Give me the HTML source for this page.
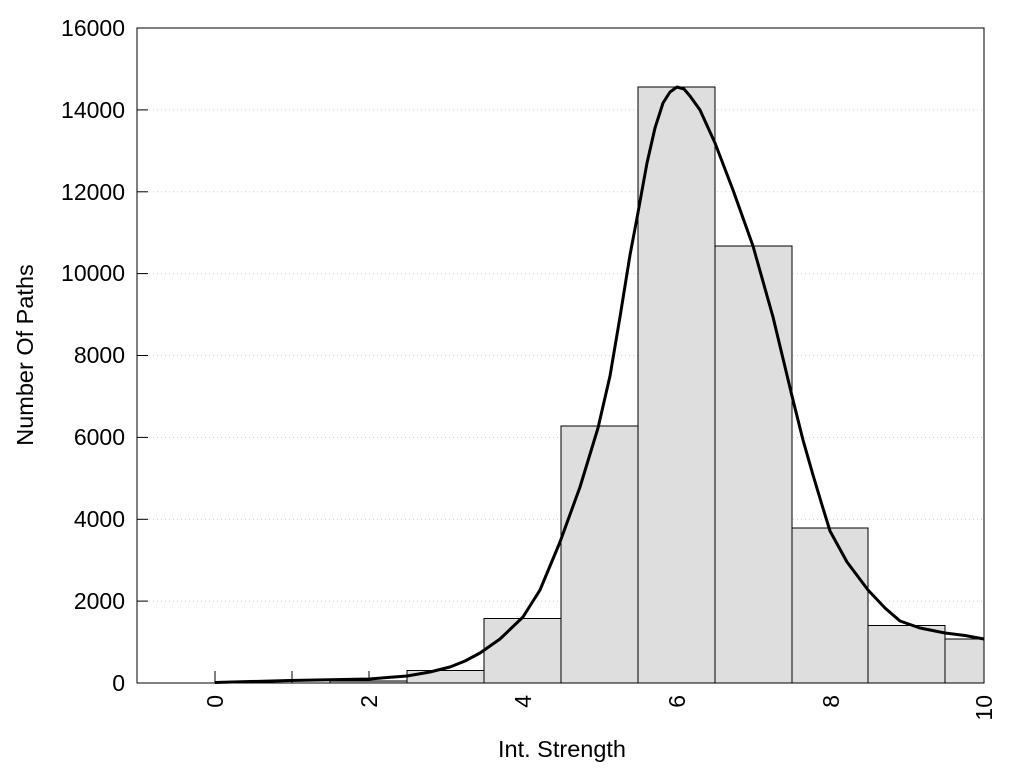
<!DOCTYPE html>
<html><head><style>body{margin:0;background:#fff}svg{display:block}text{font-family:"Liberation Sans",Arial,sans-serif;fill:#000}</style></head><body>
<svg width="1024" height="768" xmlns="http://www.w3.org/2000/svg">
<g stroke="#ccc" stroke-dasharray="1,3" stroke-width="1">
<line x1="137" x2="984" y1="601.1" y2="601.1"/><line x1="137" x2="984" y1="519.3" y2="519.3"/><line x1="137" x2="984" y1="437.4" y2="437.4"/><line x1="137" x2="984" y1="355.5" y2="355.5"/><line x1="137" x2="984" y1="273.6" y2="273.6"/><line x1="137" x2="984" y1="191.8" y2="191.8"/><line x1="137" x2="984" y1="109.9" y2="109.9"/>
</g>
<g stroke="#000" stroke-width="1">
<line x1="215" x2="215" y1="683" y2="671"/><line x1="292" x2="292" y1="683" y2="671"/><line x1="369" x2="369" y1="683" y2="671"/><line x1="446" x2="446" y1="683" y2="671"/>
<line x1="137" x2="148" y1="601.1" y2="601.1"/><line x1="137" x2="148" y1="519.3" y2="519.3"/><line x1="137" x2="148" y1="437.4" y2="437.4"/><line x1="137" x2="148" y1="355.5" y2="355.5"/><line x1="137" x2="148" y1="273.6" y2="273.6"/><line x1="137" x2="148" y1="191.8" y2="191.8"/><line x1="137" x2="148" y1="109.9" y2="109.9"/>
</g>
<g fill="#dedede" stroke="#000" stroke-width="1">
<rect x="330" y="681" width="77" height="2"/>
<rect x="407" y="670.5" width="77" height="12.5"/>
<rect x="484" y="618.5" width="77" height="64.5"/>
<rect x="561" y="426" width="77" height="257"/>
<rect x="638" y="87" width="77" height="596"/>
<rect x="715" y="246" width="77" height="437"/>
<rect x="792" y="528" width="76" height="155"/>
<rect x="868" y="625.5" width="77" height="57.5"/>
<rect x="945" y="639" width="39" height="44"/>
</g>
<polyline fill="none" stroke="#000" stroke-width="3" stroke-linejoin="round" points="215,682.5 290,680.5 369,679 407,676 430,672 450,667 465,661 480,653 500,639 523,617 540,590 560,542 580,487 598,428 610,376 620,317 630,255 637,218 647,163 655,128 663,103 670,92 677,87 684,89 690,96 700,110 715,143 733,190 753,246 773,317 792,396 803,440 813,475 822,505 830,531 847,562 868,590 885,608 900,621 920,628 945,633 965,635.5 984,639"/>
<rect x="137" y="28" width="847" height="655" fill="none" stroke="#000" stroke-width="1"/>
<g font-size="23" text-anchor="end">
<text x="125" y="691">0</text><text x="125" y="609">2000</text><text x="125" y="527">4000</text><text x="125" y="445">6000</text><text x="125" y="363">8000</text><text x="125" y="281">10000</text><text x="125" y="200">12000</text><text x="125" y="118">14000</text><text x="125" y="36">16000</text>
</g>
<g font-size="23" text-anchor="end">
<text transform="translate(223,695) rotate(-90)">0</text>
<text transform="translate(377,695) rotate(-90)">2</text>
<text transform="translate(531,695) rotate(-90)">4</text>
<text transform="translate(685,695) rotate(-90)">6</text>
<text transform="translate(839,695) rotate(-90)">8</text>
<text transform="translate(992,695) rotate(-90)">10</text>
</g>
<text x="562" y="757" font-size="23.5" text-anchor="middle">Int. Strength</text>
<text transform="translate(33,355) rotate(-90)" font-size="23.5" text-anchor="middle">Number Of Paths</text>
</svg>
</body></html>
